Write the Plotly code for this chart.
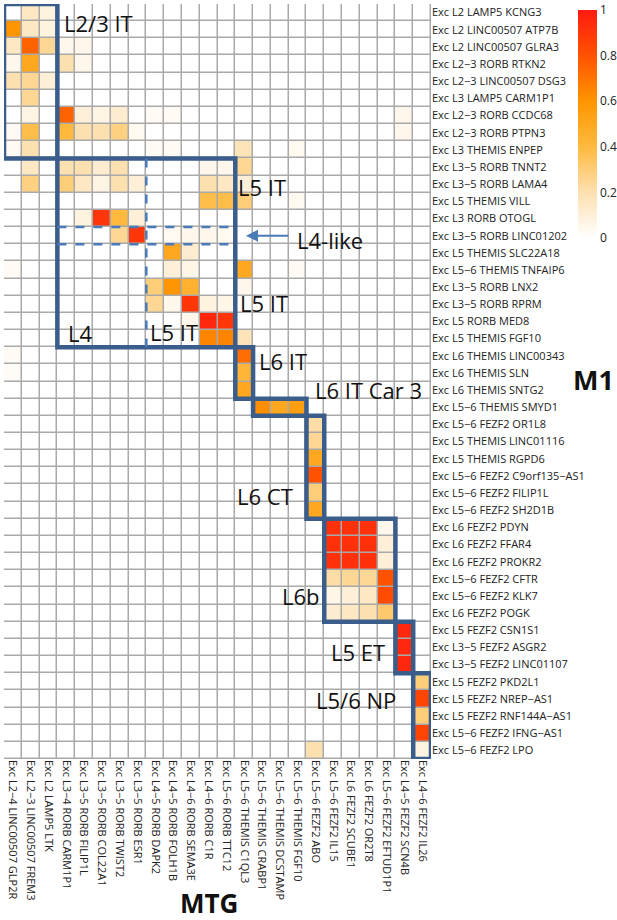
import plotly.graph_objects as go

mtg_types = [
    "Exc L2−4 LINC00507 GLP2R", "Exc L2−3 LINC00507 FREM3", "Exc L2 LAMP5 LTK",
    "Exc L3−4 RORB CARM1P1", "Exc L3−5 RORB FILIP1L", "Exc L3−5 RORB COL22A1",
    "Exc L3−5 RORB TWIST2", "Exc L3−5 RORB ESR1", "Exc L4−5 RORB DAPK2",
    "Exc L4−5 RORB FOLH1B", "Exc L4−6 RORB SEMA3E", "Exc L4−6 RORB C1R",
    "Exc L5−6 RORB TTC12", "Exc L5−6 THEMIS C1QL3", "Exc L5−6 THEMIS CRABP1",
    "Exc L5−6 THEMIS DCSTAMP", "Exc L5−6 THEMIS FGF10", "Exc L5−6 FEZF2 ABO",
    "Exc L5−6 FEZF2 IL15", "Exc L6 FEZF2 SCUBE1", "Exc L6 FEZF2 OR2T8",
    "Exc L5−6 FEZF2 EFTUD1P1", "Exc L4−5 FEZF2 SCN4B", "Exc L4−6 FEZF2 IL26",
]

m1_types = [
    "Exc L2 LAMP5 KCNG3", "Exc L2 LINC00507 ATP7B", "Exc L2 LINC00507 GLRA3",
    "Exc L2−3 RORB RTKN2", "Exc L2−3 LINC00507 DSG3", "Exc L3 LAMP5 CARM1P1",
    "Exc L2−3 RORB CCDC68", "Exc L2−3 RORB PTPN3", "Exc L3 THEMIS ENPEP",
    "Exc L3−5 RORB TNNT2", "Exc L3−5 RORB LAMA4", "Exc L5 THEMIS VILL",
    "Exc L3 RORB OTOGL", "Exc L3−5 RORB LINC01202", "Exc L5 THEMIS SLC22A18",
    "Exc L5−6 THEMIS TNFAIP6", "Exc L3−5 RORB LNX2", "Exc L3−5 RORB RPRM",
    "Exc L5 RORB MED8", "Exc L5 THEMIS FGF10", "Exc L6 THEMIS LINC00343",
    "Exc L6 THEMIS SLN", "Exc L6 THEMIS SNTG2", "Exc L5−6 THEMIS SMYD1",
    "Exc L5−6 FEZF2 OR1L8", "Exc L5 THEMIS LINC01116", "Exc L5 THEMIS RGPD6",
    "Exc L5−6 FEZF2 C9orf135−AS1", "Exc L5−6 FEZF2 FILIP1L", "Exc L5−6 FEZF2 SH2D1B",
    "Exc L6 FEZF2 PDYN", "Exc L6 FEZF2 FFAR4", "Exc L6 FEZF2 PROKR2",
    "Exc L5−6 FEZF2 CFTR", "Exc L5−6 FEZF2 KLK7", "Exc L6 FEZF2 POGK",
    "Exc L5 FEZF2 CSN1S1", "Exc L3−5 FEZF2 ASGR2", "Exc L3−5 FEZF2 LINC01107",
    "Exc L5 FEZF2 PKD2L1", "Exc L5 FEZF2 NREP−AS1", "Exc L5 FEZF2 RNF144A−AS1",
    "Exc L5−6 FEZF2 IFNG−AS1", "Exc L5−6 FEZF2 LPO",
]

# fraction of matching cells, rows = M1 types, columns = MTG types
match_frac = [
    [0, .15, .08, 0, 0, 0, 0, 0, 0, 0, 0, 0, 0, 0, 0, 0, 0, 0, 0, 0, 0, 0, 0, 0],
    [.6, .15, .08, 0, 0, 0, 0, 0, 0, 0, 0, 0, 0, 0, 0, 0, 0, 0, 0, 0, 0, 0, 0, 0],
    [.15, .75, .25, .05, .05, 0, 0, 0, 0, 0, 0, 0, 0, 0, 0, 0, 0, 0, 0, 0, 0, 0, 0, 0],
    [.05, .5, 0, .2, .05, 0, 0, 0, 0, 0, 0, 0, 0, 0, 0, 0, 0, 0, 0, 0, 0, 0, 0, 0],
    [.2, .25, .1, 0, 0, 0, 0, 0, 0, 0, 0, 0, 0, 0, 0, 0, 0, 0, 0, 0, 0, 0, 0, 0],
    [0, .25, 0, 0, 0, 0, 0, 0, 0, 0, 0, 0, 0, 0, 0, 0, 0, 0, 0, 0, 0, 0, 0, 0],
    [0, .07, 0, .75, .1, .07, .12, 0, .03, .03, 0, 0, 0, 0, 0, 0, 0, 0, 0, 0, 0, 0, .05, 0],
    [.03, .38, 0, .4, .2, .2, .28, .04, 0, 0, 0, 0, 0, 0, 0, 0, 0, 0, 0, 0, 0, 0, .05, 0],
    [.03, .2, 0, 0, 0, 0, 0, 0, .03, .03, 0, 0, 0, .18, 0, 0, .04, 0, 0, 0, 0, 0, 0, 0],
    [0, .15, 0, .2, .2, .12, .2, 0, 0, 0, 0, .05, .05, .25, 0, 0, 0, 0, 0, 0, 0, 0, 0, 0],
    [0, .28, 0, .3, .15, .07, .2, .1, 0, 0, 0, .2, .15, .1, 0, 0, 0, 0, 0, 0, 0, 0, 0, 0],
    [0, 0, 0, 0, 0, 0, 0, 0, 0, 0, 0, .38, .38, .3, 0, 0, .04, 0, 0, 0, 0, 0, 0, 0],
    [0, 0, 0, 0, .08, .9, .4, .1, 0, 0, 0, 0, 0, 0, 0, 0, 0, 0, 0, 0, 0, 0, 0, 0],
    [0, 0, 0, 0, 0, 0, .25, .9, 0, .04, .05, .05, .04, 0, 0, 0, 0, 0, 0, 0, 0, 0, 0, 0],
    [0, 0, 0, 0, 0, 0, 0, 0, 0, .5, .12, 0, 0, 0, 0, 0, 0, 0, 0, 0, 0, 0, 0, 0],
    [.03, 0, 0, 0, 0, 0, 0, 0, 0, .1, .06, 0, 0, .5, 0, 0, .03, 0, 0, 0, 0, 0, 0, 0],
    [0, 0, 0, 0, 0, 0, 0, 0, .3, .6, .45, 0, 0, .05, 0, 0, 0, 0, 0, 0, 0, 0, 0, 0],
    [0, 0, 0, 0, 0, 0, 0, 0, .25, .05, .9, .08, .06, 0, 0, 0, 0, 0, 0, 0, 0, 0, 0, 0],
    [0, 0, 0, 0, 0, 0, 0, 0, 0, 0, .05, .95, .9, 0, 0, 0, 0, 0, 0, 0, 0, 0, 0, 0],
    [0, 0, 0, 0, 0, 0, 0, 0, 0, 0, 0, .65, .65, .18, 0, 0, 0, 0, 0, 0, 0, 0, 0, 0],
    [.03, 0, 0, 0, 0, 0, 0, 0, 0, 0, 0, 0, 0, .72, 0, 0, 0, 0, 0, 0, 0, 0, 0, 0],
    [.02, 0, 0, 0, 0, 0, 0, 0, 0, 0, 0, 0, 0, .42, 0, 0, 0, 0, 0, 0, 0, 0, 0, 0],
    [0, 0, 0, 0, 0, 0, 0, 0, 0, 0, 0, 0, 0, .5, 0, 0, 0, 0, 0, 0, 0, 0, 0, 0],
    [0, 0, 0, 0, 0, 0, 0, 0, 0, 0, 0, 0, 0, 0, .62, .5, .55, 0, 0, 0, 0, 0, 0, 0],
    [0, 0, 0, 0, 0, 0, 0, 0, 0, 0, 0, 0, 0, 0, 0, 0, 0, .22, 0, 0, 0, 0, 0, 0],
    [0, 0, 0, 0, 0, 0, 0, 0, 0, 0, 0, 0, 0, 0, 0, 0, 0, .25, 0, 0, 0, 0, 0, 0],
    [0, 0, 0, 0, 0, 0, 0, 0, 0, 0, 0, 0, 0, 0, 0, 0, 0, .5, 0, 0, 0, 0, 0, 0],
    [0, 0, 0, 0, 0, 0, 0, 0, 0, 0, 0, 0, 0, 0, 0, 0, 0, .8, 0, 0, 0, 0, 0, 0],
    [0, 0, 0, 0, 0, 0, 0, 0, 0, 0, 0, 0, 0, 0, 0, 0, 0, .3, 0, 0, 0, 0, 0, 0],
    [0, 0, 0, 0, 0, 0, 0, 0, 0, 0, 0, 0, 0, 0, 0, 0, 0, .5, 0, 0, 0, 0, 0, 0],
    [0, 0, 0, 0, 0, 0, 0, 0, 0, 0, 0, 0, 0, 0, 0, 0, 0, 0, .92, .92, .92, .05, 0, 0],
    [0, 0, 0, 0, 0, 0, 0, 0, 0, 0, 0, 0, 0, 0, 0, 0, 0, 0, .92, .92, .92, .1, 0, 0],
    [0, 0, 0, 0, 0, 0, 0, 0, 0, 0, 0, 0, 0, 0, 0, 0, 0, 0, .92, .92, .92, .1, 0, 0],
    [0, 0, 0, 0, 0, 0, 0, 0, 0, 0, 0, 0, 0, 0, 0, 0, 0, 0, .22, .25, .25, .8, 0, 0],
    [0, 0, 0, 0, 0, 0, 0, 0, 0, 0, 0, 0, 0, 0, 0, 0, 0, 0, .06, .1, .15, .82, 0, 0],
    [0, 0, 0, 0, 0, 0, 0, 0, 0, 0, 0, 0, 0, 0, 0, 0, 0, 0, .12, .15, .2, .32, 0, 0],
    [0, 0, 0, 0, 0, 0, 0, 0, 0, 0, 0, 0, 0, 0, 0, 0, 0, 0, 0, 0, 0, 0, .95, 0],
    [0, 0, 0, 0, 0, 0, 0, 0, 0, 0, 0, 0, 0, 0, 0, 0, 0, 0, 0, 0, 0, 0, .95, 0],
    [0, 0, 0, 0, 0, 0, 0, 0, 0, 0, 0, 0, 0, 0, 0, 0, 0, 0, 0, 0, 0, 0, .95, 0],
    [0, 0, 0, 0, 0, 0, 0, 0, 0, 0, 0, 0, 0, 0, 0, 0, 0, 0, 0, 0, 0, 0, 0, .3],
    [0, 0, 0, 0, 0, 0, 0, 0, 0, 0, 0, 0, 0, 0, 0, 0, 0, 0, 0, 0, 0, 0, 0, .85],
    [0, 0, 0, 0, 0, 0, 0, 0, 0, 0, 0, 0, 0, 0, 0, 0, 0, 0, 0, 0, 0, 0, 0, .3],
    [0, 0, 0, 0, 0, 0, 0, 0, 0, 0, 0, 0, 0, 0, 0, 0, 0, 0, 0, 0, 0, 0, 0, .85],
    [0, 0, 0, 0, 0, 0, 0, 0, 0, 0, 0, 0, 0, 0, 0, 0, 0, .2, 0, 0, 0, 0, 0, .08],
]
assert len(match_frac) == len(m1_types)
assert all(len(r) == len(mtg_types) for r in match_frac)

# cluster boxes (first/last MTG column, first/last M1 row, 1-based) and labels
group_boxes = [(1, 3, 1, 9), (4, 13, 10, 20), (14, 14, 21, 23), (15, 17, 24, 24),
               (18, 18, 25, 30), (19, 22, 31, 36), (23, 23, 37, 39), (24, 24, 40, 44)]
group_labels = ["L2/3 IT", "L5 IT", "L4-like", "L5 IT", "L4", "L5 IT", "L6 IT",
                "L6 IT Car 3", "L6 CT", "L6b", "L5 ET", "L5/6 NP"]
label_pos = [(2.75, 0.6), (12.55, 10.15), (15.85, 13.25), (12.65, 16.9), (3.0, 18.65),
             (7.6, 18.6), (13.7, 20.3), (16.85, 22.0), (12.5, 28.2), (15.0, 34.0),
             (17.75, 37.25), (16.9, 40.05)]

FONT = "Open Sans"
box_col = "#3b5d8c"
dash_col = "#4a7ab8"

colorscale = [[0.0, "#ffffff"], [0.2, "#fde0b0"], [0.4, "#ffba3e"],
              [0.6, "#ff9500"], [0.8, "#ff5200"], [1.0, "#ff1a10"]]

fig = go.Figure(go.Heatmap(
    z=match_frac, x=list(range(len(mtg_types))), y=list(range(len(m1_types))),
    zmin=0, zmax=1, colorscale=colorscale, xgap=1.5, ygap=1.5,
    hoverinfo="skip",
    colorbar=dict(x=1.344, xanchor="left", y=0.9921, yanchor="top",
                  xpad=0, ypad=0, ticklabeloverflow="allow",
                  lenmode="pixels", len=228, thickness=19, outlinewidth=0,
                  tickvals=[0, 0.2, 0.4, 0.6, 0.8, 1],
                  ticktext=["0", "0.2", "0.4", "0.6", "0.8", "1"],
                  ticks="", tickfont=dict(family=FONT, size=12, color="#222")),
))

shapes = []
for c0, c1, r0, r1 in group_boxes:
    shapes.append(dict(type="rect", xref="x", yref="y",
                       x0=c0 - 1.5, x1=c1 - 0.5, y0=r0 - 1.5, y1=r1 - 0.5,
                       line=dict(color=box_col, width=4.5)))
# dashed L4 / L5 IT split
shapes.append(dict(type="line", xref="x", yref="y", x0=7.5, x1=7.5, y0=8.5, y1=19.5,
                   line=dict(color=dash_col, width=2.5, dash="dash")))
for yy in (12.5, 13.5):
    shapes.append(dict(type="line", xref="x", yref="y", x0=2.5, x1=12.5, y0=yy, y1=yy,
                       line=dict(color=dash_col, width=2.5, dash="dash")))

annotations = []
for txt, (ax_, ay_) in zip(group_labels, label_pos):
    annotations.append(dict(text=txt, x=ax_, y=ay_, xref="x", yref="y",
                            xanchor="left", yanchor="middle", showarrow=False,
                            font=dict(family=FONT, size=22, color="#111")))
annotations.append(dict(text="", x=13.1, y=13.0, xref="x", yref="y", ax=44, ay=0,
                        showarrow=True, arrowhead=2, arrowsize=1.2, arrowwidth=2,
                        arrowcolor=dash_col))
annotations.append(dict(text="<b>M1</b>", x=1.3794, y=0.502, xref="paper", yref="paper",
                        xanchor="center", yanchor="middle", showarrow=False,
                        font=dict(family=FONT, size=27, color="#111")))
annotations.append(dict(text="<b>MTG</b>", x=0.48, y=-0.1907, xref="paper", yref="paper",
                        xanchor="center", yanchor="middle", showarrow=False,
                        font=dict(family=FONT, size=26, color="#111")))

fig.update_layout(
    width=617, height=920,
    margin=dict(l=4, r=186, t=4, b=161, autoexpand=False),
    paper_bgcolor="white", plot_bgcolor="#a9a9a9",
    shapes=shapes, annotations=annotations,
    xaxis=dict(tickvals=list(range(len(mtg_types))), ticktext=mtg_types,
               tickangle=90, range=[-0.5, len(mtg_types) - 0.5],
               showgrid=False, zeroline=False, ticks="", automargin=False,
               tickfont=dict(family=FONT, size=11, color="#222")),
    yaxis=dict(tickvals=list(range(len(m1_types))), ticktext=m1_types,
               side="right", range=[len(m1_types) - 0.5, -0.5],
               showgrid=False, zeroline=False, ticks="", automargin=False,
               tickfont=dict(family=FONT, size=11, color="#222")),
)

fig.write_html("out.html", config={"displayModeBar": False},
               post_script="document.body.style.margin='0px';")
